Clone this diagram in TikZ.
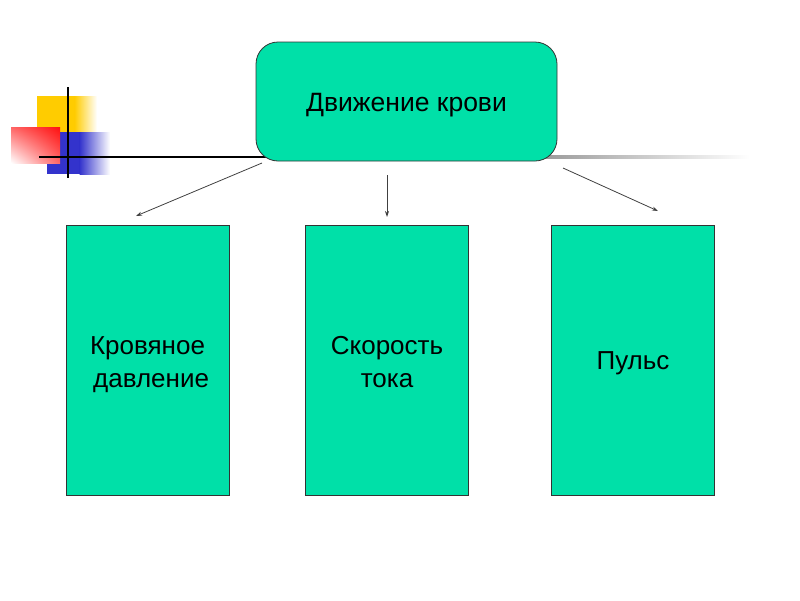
\documentclass[tikz,border=0pt]{standalone}
\usepackage{fontspec}
\setmainfont{Liberation Sans}
\usetikzlibrary{arrows.meta,shadings}
\definecolor{mint}{HTML}{00E0A8}
\definecolor{gold}{HTML}{FFCC00}
\definecolor{bluesq}{HTML}{3333CC}
\definecolor{redsq}{HTML}{FF1010}
\definecolor{linegray}{HTML}{404040}
\newcommand{\boxtext}[2][0pt]{\raisebox{#1}[\height][\depth]{\begin{tabular}{@{}c@{}}#2\end{tabular}}}
\tikzset{
  topbox/.style={draw=black!80, line width=0.8pt, fill=mint, rounded corners=22pt,
    minimum width=301pt, minimum height=119pt, inner sep=0pt,
    font=\fontsize{26.5}{33}\selectfont},
  subbox/.style={draw=black!80, line width=0.8pt, fill=mint,
    minimum width=163pt, minimum height=270pt, inner sep=0pt, align=center,
    font=\fontsize{26}{33}\selectfont},
  conn/.style={draw=linegray, line width=0.8pt, -{Stealth[length=6pt,width=4pt]}}
}
\begin{document}
\begin{tikzpicture}[x=1pt,y=-1pt]
\useasboundingbox (0,0) rectangle (800,600);
% decoration squares
\fill[gold] (37,96) rectangle (75,133);
\shade[left color=gold, right color=white] (74.5,96) rectangle (97,133);
\fill[bluesq] (47,132) rectangle (80,174);
\shade[left color=bluesq, right color=white] (79.5,132) rectangle (110,174);
\shade[upper right=redsq, upper left=red!60!white, lower right=red!60!white, lower left=white] (11,127) rectangle (60,163);
% guide lines
\draw[black, line width=2pt] (39,157) -- (300,157);
\shade[left color=black!40, right color=white] (540,155.5) rectangle (750,158.5);
\draw[black, line width=2pt] (68,87) -- (68,178);
% nodes
\node[topbox] (top) at (406.5,101.5) {\boxtext[-3pt]{Движение крови}};
\node[subbox] (b1) at (147.5,360) {\boxtext[-4pt]{Кровяное\\ \ давление}};
\node[subbox] (b2) at (387,360) {\boxtext[-4pt]{Скорость\\тока}};
\node[subbox] (b3) at (633,360) {\boxtext[-3pt]{Пульс}};
% connectors
\coordinate (s1) at (262,163);
\coordinate (e1) at (136,216);
\coordinate (s2) at (387,175);
\coordinate (e2) at (387,217);
\coordinate (s3) at (563,168);
\coordinate (e3) at (658,211);
\draw[conn] (s1) -- (e1);
\draw[conn] (s2) -- (e2);
\draw[conn] (s3) -- (e3);
\end{tikzpicture}
\end{document}
